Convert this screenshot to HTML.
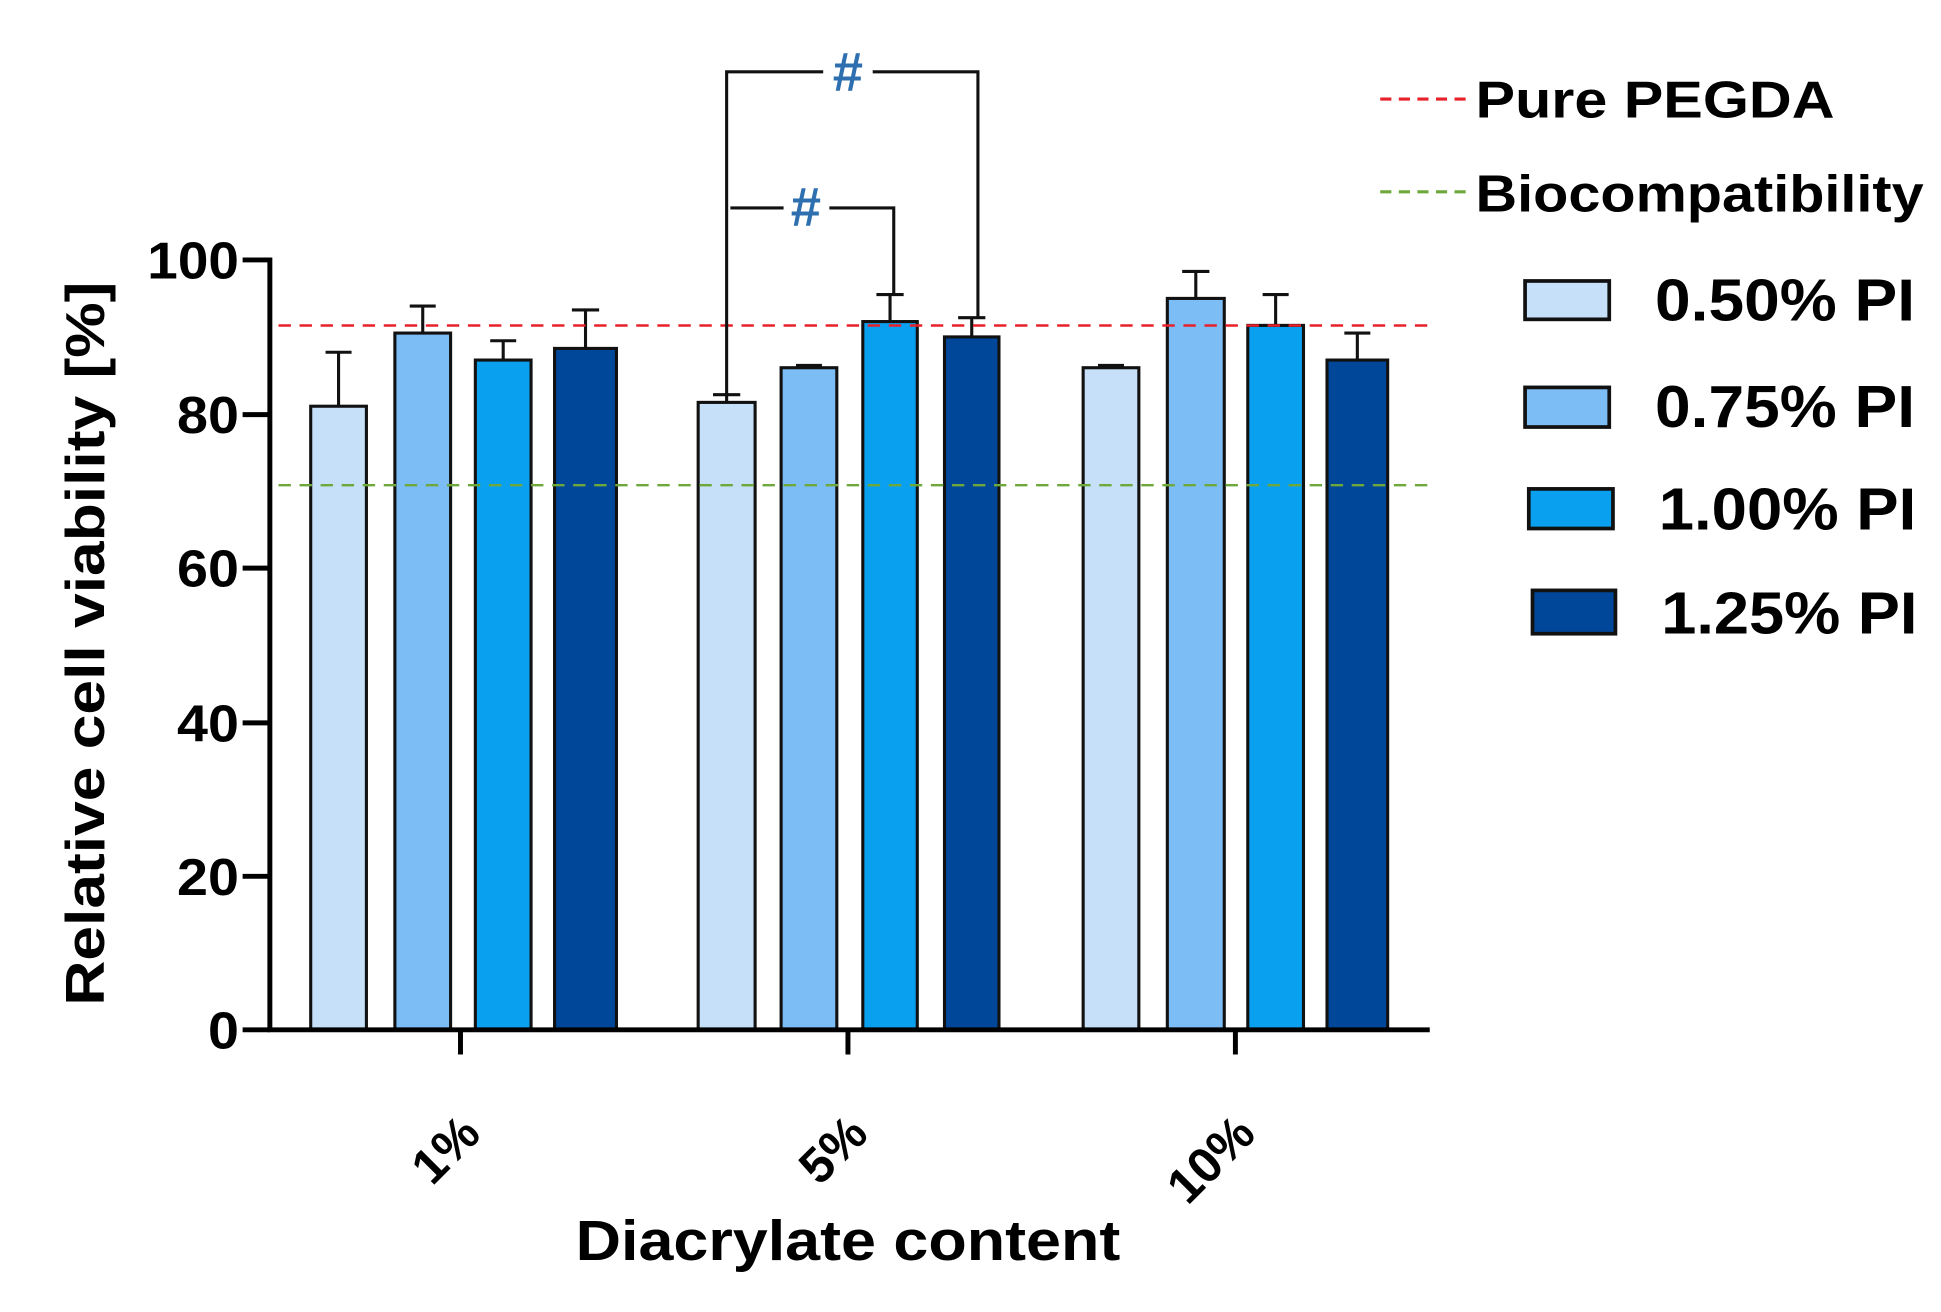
<!DOCTYPE html>
<html><head><meta charset="utf-8"><style>html,body{margin:0;padding:0;background:#fff}svg{display:block}</style></head>
<body>
<svg width="1941" height="1312" viewBox="0 0 1568 1060" preserveAspectRatio="none" xmlns="http://www.w3.org/2000/svg" font-family="Liberation Sans, Arial, sans-serif" font-weight="bold">
<rect width="1568" height="1060" fill="#fff"/>
<g stroke="#111" stroke-width="2.5">
<rect x="251" y="328.2" width="45" height="503.8" fill="#c5e0f8"/>
<rect x="319" y="269.1" width="45" height="562.9" fill="#7dbdf5"/>
<rect x="384" y="290.9" width="45" height="541.1" fill="#0aa0f0"/>
<rect x="448" y="281.5" width="50" height="550.5" fill="#00479a"/>
<rect x="564" y="325.1" width="46" height="506.9" fill="#c5e0f8"/>
<rect x="631" y="297.1" width="45" height="534.9" fill="#7dbdf5"/>
<rect x="697" y="259.8" width="44" height="572.2" fill="#0aa0f0"/>
<rect x="763" y="272.2" width="44" height="559.8" fill="#00479a"/>
<rect x="875" y="297.1" width="45" height="534.9" fill="#c5e0f8"/>
<rect x="943" y="241.1" width="46" height="590.9" fill="#7dbdf5"/>
<rect x="1008" y="262.9" width="45" height="569.1" fill="#0aa0f0"/>
<rect x="1072" y="290.9" width="49" height="541.1" fill="#00479a"/>
</g>
<g stroke="#111" stroke-width="2.5" fill="none">
<path d="M273.5 328V284.6M263 284.6H284"/>
<path d="M341.5 269V247.3M331 247.3H352"/>
<path d="M406.5 291V275.3M396 275.3H417"/>
<path d="M473 281V250.4M462 250.4H484"/>
<path d="M587 325V318.9M576 318.9H598"/>
<path d="M653.5 297V295.2M643 295.2H664"/>
<path d="M719 260V238M708 238H730"/>
<path d="M785 272V256.7M774 256.7H796"/>
<path d="M897.5 297V295.2M887 295.2H908"/>
<path d="M966 241V219.3M955 219.3H977"/>
<path d="M1030.5 263V238M1020 238H1041"/>
<path d="M1096.5 291V269.1M1086 269.1H1107"/>
</g>
<line x1="225" y1="263" x2="1155" y2="263" stroke="#e8202a" stroke-width="2" stroke-dasharray="10,7"/>
<line x1="225" y1="392" x2="1155" y2="392" stroke="#6fa83a" stroke-width="2" stroke-dasharray="10,7"/>
<g stroke="#000" stroke-width="4" fill="none">
<path d="M218 208V832H1155"/>
<path d="M196 210H218M196 335H218M196 459H218M196 584H218M196 708H218M196 832H218"/>
<path d="M372 832V852M685 832V852M998 832V852"/>
</g>
<g font-size="42" text-anchor="end" fill="#000">
<text x="193" y="225" textLength="74" lengthAdjust="spacingAndGlyphs">100</text>
<text x="193" y="350" textLength="50" lengthAdjust="spacingAndGlyphs">80</text>
<text x="193" y="474" textLength="50" lengthAdjust="spacingAndGlyphs">60</text>
<text x="193" y="599" textLength="50" lengthAdjust="spacingAndGlyphs">40</text>
<text x="193" y="723" textLength="50" lengthAdjust="spacingAndGlyphs">20</text>
<text x="193" y="847" textLength="25" lengthAdjust="spacingAndGlyphs">0</text>
</g>
<text transform="translate(84,520) rotate(-90)" font-size="44" text-anchor="middle" textLength="585" lengthAdjust="spacingAndGlyphs">Relative cell viability [%]</text>
<g font-size="40" text-anchor="end" fill="#000">
<text transform="translate(390,918) rotate(-45)">1%</text>
<text transform="translate(703,918) rotate(-45)">5%</text>
<text transform="translate(1016,918) rotate(-45)">10%</text>
</g>
<text x="685" y="1018" font-size="46" text-anchor="middle" textLength="440" lengthAdjust="spacingAndGlyphs">Diacrylate content</text>
<g stroke="#111" stroke-width="2.5" fill="none">
<path d="M587 318V58H665M705 58H790V257"/>
<path d="M590 168H633M670 168H722V237"/>
</g>
<g fill="#2e6fb0" font-size="44" font-weight="bold" text-anchor="middle">
<text x="685" y="73">#</text>
<text x="651" y="182">#</text>
</g>
<line x1="1115" y1="80" x2="1190" y2="80" stroke="#e8202a" stroke-width="2.5" stroke-dasharray="9,6"/>
<line x1="1115" y1="155" x2="1190" y2="155" stroke="#6fa83a" stroke-width="2.5" stroke-dasharray="9,6"/>
<text x="1192" y="95" font-size="42" textLength="290" lengthAdjust="spacingAndGlyphs">Pure PEGDA</text>
<text x="1192" y="171" font-size="42" textLength="362" lengthAdjust="spacingAndGlyphs">Biocompatibility</text>
<g stroke="#111" stroke-width="3">
<rect x="1232" y="227" width="68" height="31" fill="#c5e0f8"/>
<rect x="1232" y="313" width="68" height="32" fill="#7dbdf5"/>
<rect x="1235" y="395" width="68" height="32" fill="#0aa0f0"/>
<rect x="1238" y="477" width="67" height="35" fill="#00479a"/>
</g>
<g font-size="48">
<text x="1337" y="259" textLength="210" lengthAdjust="spacingAndGlyphs">0.50% PI</text>
<text x="1337" y="345" textLength="210" lengthAdjust="spacingAndGlyphs">0.75% PI</text>
<text x="1340" y="428" textLength="208" lengthAdjust="spacingAndGlyphs">1.00% PI</text>
<text x="1342" y="512" textLength="207" lengthAdjust="spacingAndGlyphs">1.25% PI</text>
</g>
</svg>
</body></html>
